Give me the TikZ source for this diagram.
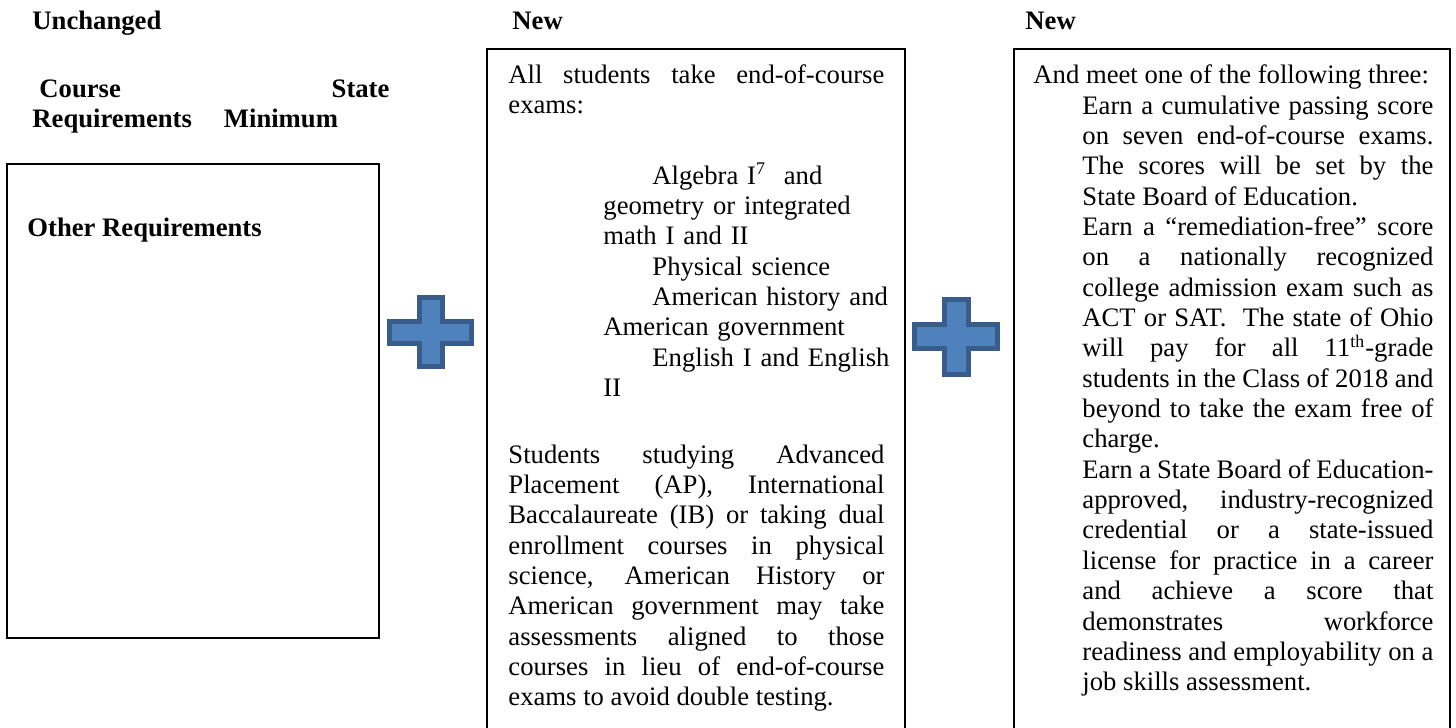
\documentclass[tikz,border=0pt]{standalone}
\usepackage{fontspec}
\setmainfont{Liberation Serif}
\usetikzlibrary{positioning}
\newdimen\pxu \pxu=0.45pt
\definecolor{plusfill}{HTML}{4F81BD}
\definecolor{plusline}{HTML}{385D8A}

\begin{document}
\begin{tikzpicture}[x=0.45pt, y=-0.45pt,
        node font=\fontsize{12pt}{13.66pt}\selectfont,
        hd/.style={font=\bfseries, anchor=base west, inner sep=0pt},
        para/.style={anchor=base west, inner sep=0pt, text width=#1, align=justify,
          execute at begin node={\hyphenpenalty=10000\exhyphenpenalty=10000\tolerance=10000\pretolerance=-1}},
        lst/.style={anchor=base west, inner sep=0pt, text width=#1, align=left,
          execute at begin node={\hyphenpenalty=10000\exhyphenpenalty=10000}},
        frame/.style={draw, line width=0.9pt},
        plus/.style={fill=plusfill, draw=plusline, line width=2pt, line join=miter}]
        \useasboundingbox (0,0) rectangle (1456,727);
        \clip (0,0) rectangle (1456,727);

        % headings
        \node[hd] (unchanged) at (32,29) {Unchanged};
        \node[hd] (new1) at (512,29) {New};
        \node[hd] (new2) at (1025,29) {New};
        \node[para=357\pxu, font=\bfseries] (course) at (32,97)
          {\hspace*{7\pxu}Course\hfill State\linebreak Requirements\hspace*{32\pxu}Minimum};

        % boxes
        \draw[frame] (7,164) rectangle (379,638);
        \draw[frame] (487,49) rectangle (905,740);
        \draw[frame] (1014,49) rectangle (1450,740);

        \node[hd] (other) at (27,236) {Other Requirements};

        % middle box
        \node[para=376\pxu] (exams) at (508,83)
          {All students take end-of-course\linebreak exams:};
        \node[lst=296\pxu] (subjects) at (603,184)
          {\hspace*{49\pxu}Algebra I\textsuperscript{7}\ \ and\\
           geometry or integrated\\
           math I and II\\
           \hspace*{49\pxu}Physical science\\
           \hspace*{49\pxu}American history and\\
           American government\\
           \hspace*{49\pxu}English I and English\\
           II};
        \node[para=376\pxu] (ap) at (508,463)
          {Students studying Advanced\linebreak
           Placement (AP), International\linebreak
           Baccalaureate (IB) or taking dual\linebreak
           enrollment courses in physical\linebreak
           science, American History or\linebreak
           American government may take\linebreak
           assessments aligned to those\linebreak
           courses in lieu of end-of-course\linebreak
           exams to avoid double testing.};

        % right box
        \node[hd, font=\mdseries] (meet) at (1033,83) {And meet one of the following three:};
        \node[para=351\pxu] (options) at (1082,114)
          {Earn a cumulative passing score\linebreak
           on seven end-of-course exams.\linebreak
           The scores will be set by the\linebreak
           State Board of Education.\par
           Earn a “remediation-free” score\linebreak
           on a nationally recognized\linebreak
           college admission exam such as\linebreak
           ACT or SAT.\ \ The state of Ohio\linebreak
           will pay for all 11\textsuperscript{th}-grade\linebreak
           students in the Class of 2018 and\linebreak
           beyond to take the exam free of\linebreak
           charge.\par
           Earn a State Board of Education-\linebreak
           approved, industry-recognized\linebreak
           credential or a state-issued\linebreak
           license for practice in a career\linebreak
           and achieve a score that\linebreak
           demonstrates workforce\linebreak
           readiness and employability on a\linebreak
           job skills assessment.};

        % plus signs
        \foreach \l/\r/\t/\b/\vl/\vr/\ht/\hb in {389.5/471.5/297.5/366.5/419.5/442.5/321.5/343.5,
          914.5/997.5/299.5/374.5/944.5/968.5/324.5/348.5}
        \draw[plus] (\vl,\t) -- (\vr,\t) -- (\vr,\ht) -- (\r,\ht) -- (\r,\hb) -- (\vr,\hb)
          -- (\vr,\b) -- (\vl,\b) -- (\vl,\hb) -- (\l,\hb) -- (\l,\ht) -- (\vl,\ht) -- cycle;
      \end{tikzpicture}
\end{document}
